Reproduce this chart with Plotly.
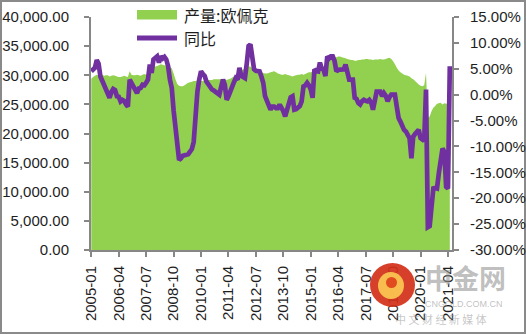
import plotly.graph_objects as go

# Monthly categories, 2005-01 .. 2021-05
months = [f"{y}-{m:02d}" for y in range(2005, 2022) for m in range(1, 13)][:197]

# OPEC crude output (left axis)
production = [
    29400, 29700, 29900, 30100, 29900, 30000, 30100, 29900, 30000, 30000, 29800, 29900,  # 2005
    30000, 29900, 29800, 29700, 29700, 29800, 29900, 29800, 29700, 30700, 30100, 30000,  # 2006
    30000, 30100, 30000, 29900, 30100, 30200, 30100, 30400, 30900, 31200, 31400, 31500,  # 2007
    31600, 31700, 31900, 31800, 31700, 31600, 31500, 31400, 31200, 30300, 29300, 28500,  # 2008
    28200, 28100, 28100, 28300, 28500, 28700, 28800, 28900, 29000, 29000, 29100, 29200,  # 2009
    29000, 29000, 29100, 29100, 29200, 29200, 29200, 29300, 29300, 29300, 29300, 29300,  # 2010
    29300, 29300, 29200, 29300, 29400, 29600, 29800, 30000, 30300, 30600, 30800, 31000,  # 2011
    31200, 31400, 31500, 31500, 31200, 30900, 30800, 30700, 30700, 30500, 30400, 30300,  # 2012
    30300, 30400, 30500, 30600, 30700, 30500, 30300, 30200, 30100, 30100, 30200, 30100,  # 2013
    30000, 29900, 29800, 29900, 30000, 30100, 30100, 30200, 30100, 30200, 30400, 30500,  # 2014
    30500, 30600, 30700, 30800, 30900, 31100, 31300, 31500, 31800, 32100, 32400, 32600,  # 2015
    32800, 33000, 33100, 33200, 33200, 33100, 33000, 32900, 32800, 32700, 32600, 32600,  # 2016
    32500, 32500, 32600, 32600, 32700, 32700, 32800, 32800, 32700, 32700, 32600, 32700,  # 2017
    32700, 32700, 32800, 32700, 32700, 32800, 32900, 33000, 32800, 32400, 31900, 31300,  # 2018
    30800, 30500, 30300, 30100, 30000, 29900, 29800, 29500, 29300, 29000, 28700, 28400,  # 2019
    28200, 28100, 28300, 30400, 22700, 22900, 23800, 24400, 24700, 25100, 25200, 25300,  # 2020
    25000, 25200, 25100, 25200, 25500,                                                   # 2021
]

# Year-on-year change, % (right axis)
yoy = [
    4.5, 5.0, 5.2, 6.7, 6.0, 3.5, 2.6, 1.6, 0.8, -0.2, -0.6, 0.5,          # 2005
    1.1, 0.9, -0.3, -0.4, -1.3, -1.0, -1.2, -1.9, -2.3, 2.9, 2.3, 1.5,     # 2006
    0.9, 0.3, 1.2, 1.3, 1.9, 1.8, 2.3, 2.9, 5.8, 4.2, 6.8, 7.1,            # 2007
    7.4, 6.2, 7.4, 7.0, 7.3, 6.8, 5.5, 2.9, 1.3, -3.0, -6.2, -9.5,         # 2008
    -12.6, -12.3, -11.8, -11.7, -11.7, -11.5, -11.0, -10.5, -9.1, -3.6, 0.5, 2.9,  # 2009
    4.5, 4.0, 3.6, 2.5, 1.9, 1.4, 1.0, 0.8, 0.6, 0.3, 0.0, 1.5,            # 2010
    2.9, 1.9, -1.0, -0.3, 0.8, 1.9, 2.4, 3.2, 2.9, 5.2, 3.6, 3.4,          # 2011
    3.2, 6.0, 9.4, 9.7, 7.4, 4.9, 4.6, 4.5, 4.5, 3.5, 2.3, -0.3,           # 2012
    -1.0, -1.9, -2.9, -2.3, -2.3, -2.6, -2.6, -1.9, -2.5, -3.2, -4.2, -3.0,  # 2013
    -1.3, -0.5, -0.3, -2.9, -2.8, -2.6, -2.2, -1.3, 1.6, 1.8, 2.3, 1.8,    # 2014
    1.0, -0.6, 4.9, 4.6, 4.5, 6.2, 5.0, 4.9, 3.6, 7.4, 7.0, 7.4,           # 2015
    7.4, 6.5, 4.5, 4.8, 4.9, 4.9, 4.9, 5.8, 4.5, 2.9, 2.9, 2.9,            # 2016
    -0.6, -0.8, -1.6, -1.9, -1.3, -1.0, -1.2, -1.3, -1.0, -1.5, -2.9, -0.8,  # 2017
    0.6, 0.6, 0.6, -0.3, 0.3, -0.2, -1.3, -0.5, 0.0, 0.0, 0.0, -2.3,       # 2018
    -4.5, -5.2, -6.2, -6.8, -7.1, -7.8, -8.4, -12.3, -8.1, -7.6, -7.1, -6.8,  # 2019
    -8.4, -8.7, -8.9, 1.0, -25.6, -25.4, -21.0, -18.1, -18.0, -18.1, -15.2, -12.0,  # 2020
    -10.4, -11.0, -17.8, -18.1, 5.5,                                       # 2021
]

x_ticks = ["2005-01", "2006-04", "2007-07", "2008-10", "2010-01", "2011-04", "2012-07",
           "2013-10", "2015-01", "2016-04", "2017-07", "2018-10", "2020-01", "2021-04"]
left_ticks = [0, 5000, 10000, 15000, 20000, 25000, 30000, 35000, 40000]
left_labels = ["0.00", "5,000.00", "10,000.00", "15,000.00", "20,000.00",
               "25,000.00", "30,000.00", "35,000.00", "40,000.00"]
right_ticks = [-30, -25, -20, -15, -10, -5, 0, 5, 10, 15]
right_labels = ["-30.00%", "-25.00%", "-20.00%", "-15.00%", "-10.00%",
                "-5.00%", "0.00%", "5.00%", "10.00%", "15.00%"]

W, H = 526, 334
ML, MR, MT, MB = 91, 74, 17, 84
PW, PH = W - ML - MR, H - MT - MB

def px(x):
    return (x - ML) / PW

def py(y):
    return (H - MB - y) / PH

GREEN = "#92D050"
PURPLE = "#7030A0"
AXIS = "#878787"
TEXT = "#1e1e1e"
FONT = "Liberation Sans, Arial, sans-serif"
CJK = "Noto Sans CJK SC, sans-serif"

fig = go.Figure()
fig.add_trace(go.Scatter(
    x=months, y=production, name="产量:欧佩克", mode="none",
    fill="tozeroy", fillcolor=GREEN, showlegend=False,
))
fig.add_trace(go.Scatter(
    x=months, y=yoy, name="同比", mode="lines", yaxis="y2",
    line=dict(color=PURPLE, width=4.7), showlegend=False,
))

axis_common = dict(showgrid=False, zeroline=False, showline=True, linecolor=AXIS,
                   linewidth=2, ticks="outside", ticklen=5, tickwidth=1.5,
                   tickcolor=AXIS, automargin=False,
                   tickfont=dict(family=FONT, size=15, color=TEXT))

fig.update_layout(
    width=W, height=H,
    margin=dict(l=ML, r=MR, t=MT, b=MB, pad=0),
    paper_bgcolor="white", plot_bgcolor="white",
    xaxis=dict(type="category", range=[-0.15, 197.2], tickmode="array",
               tickvals=x_ticks, ticktext=x_ticks, tickangle=-90,
               ticklabelstandoff=3, **axis_common),
    yaxis=dict(range=[0, 40000], tickmode="array", tickvals=left_ticks,
               ticktext=left_labels, ticklabelstandoff=12, **axis_common),
    yaxis2=dict(range=[-30, 15], overlaying="y", side="right", tickmode="array",
                tickvals=right_ticks, ticktext=right_labels, ticklabelstandoff=8,
                **axis_common),
)

shapes = [
    # chart frame
    dict(type="rect", xref="paper", yref="paper", x0=px(1), x1=px(525), y0=py(333), y1=py(1),
         line=dict(color="#8a8a8a", width=2), fillcolor="rgba(0,0,0,0)", layer="below"),
    # legend keys
    dict(type="rect", xref="paper", yref="paper", x0=px(137), x1=px(177), y0=py(19.5), y1=py(10),
         line=dict(width=0), fillcolor=GREEN),
    dict(type="line", xref="paper", yref="paper", x0=px(137), x1=px(177), y0=py(38), y1=py(38),
         line=dict(color=PURPLE, width=5)),
    # site mark
    dict(type="circle", xref="paper", yref="paper", x0=px(370), x1=px(415), y0=py(307), y1=py(263),
         line=dict(width=0), fillcolor="rgba(210,48,24,0.92)"),
    dict(type="circle", xref="paper", yref="paper", x0=px(378), x1=px(404), y0=py(299), y1=py(272),
         line=dict(width=0), fillcolor="rgba(250,196,80,0.95)"),
    dict(type="circle", xref="paper", yref="paper", x0=px(386), x1=px(397), y0=py(288), y1=py(277),
         line=dict(width=0), fillcolor="rgba(222,70,28,0.95)"),
]

annotations = [
    dict(text="产量:欧佩克", x=px(182), y=py(15), xref="paper", yref="paper",
         xanchor="left", yanchor="middle", showarrow=False,
         font=dict(family=CJK, size=16, color=TEXT)),
    dict(text="同比", x=px(182), y=py(38), xref="paper", yref="paper",
         xanchor="left", yanchor="middle", showarrow=False,
         font=dict(family=CJK, size=16, color=TEXT)),
    dict(text="<b>中金网</b>", x=px(465), y=py(277), xref="paper", yref="paper",
         xanchor="center", yanchor="middle", showarrow=False,
         font=dict(family=CJK, size=27, color="rgba(150,150,150,0.6)")),
    dict(text="CNGOLD.COM.CN", x=px(464), y=py(304), xref="paper", yref="paper",
         xanchor="center", yanchor="middle", showarrow=False,
         font=dict(family=FONT, size=9, color="rgba(150,150,150,0.6)")),
    dict(text="中 文 财 经 新 媒 体", x=px(441), y=py(319), xref="paper", yref="paper",
         xanchor="center", yanchor="middle", showarrow=False,
         font=dict(family=CJK, size=11, color="rgba(150,150,150,0.55)")),
]

fig.update_layout(shapes=shapes, annotations=annotations)
fig.write_html("out.html")
